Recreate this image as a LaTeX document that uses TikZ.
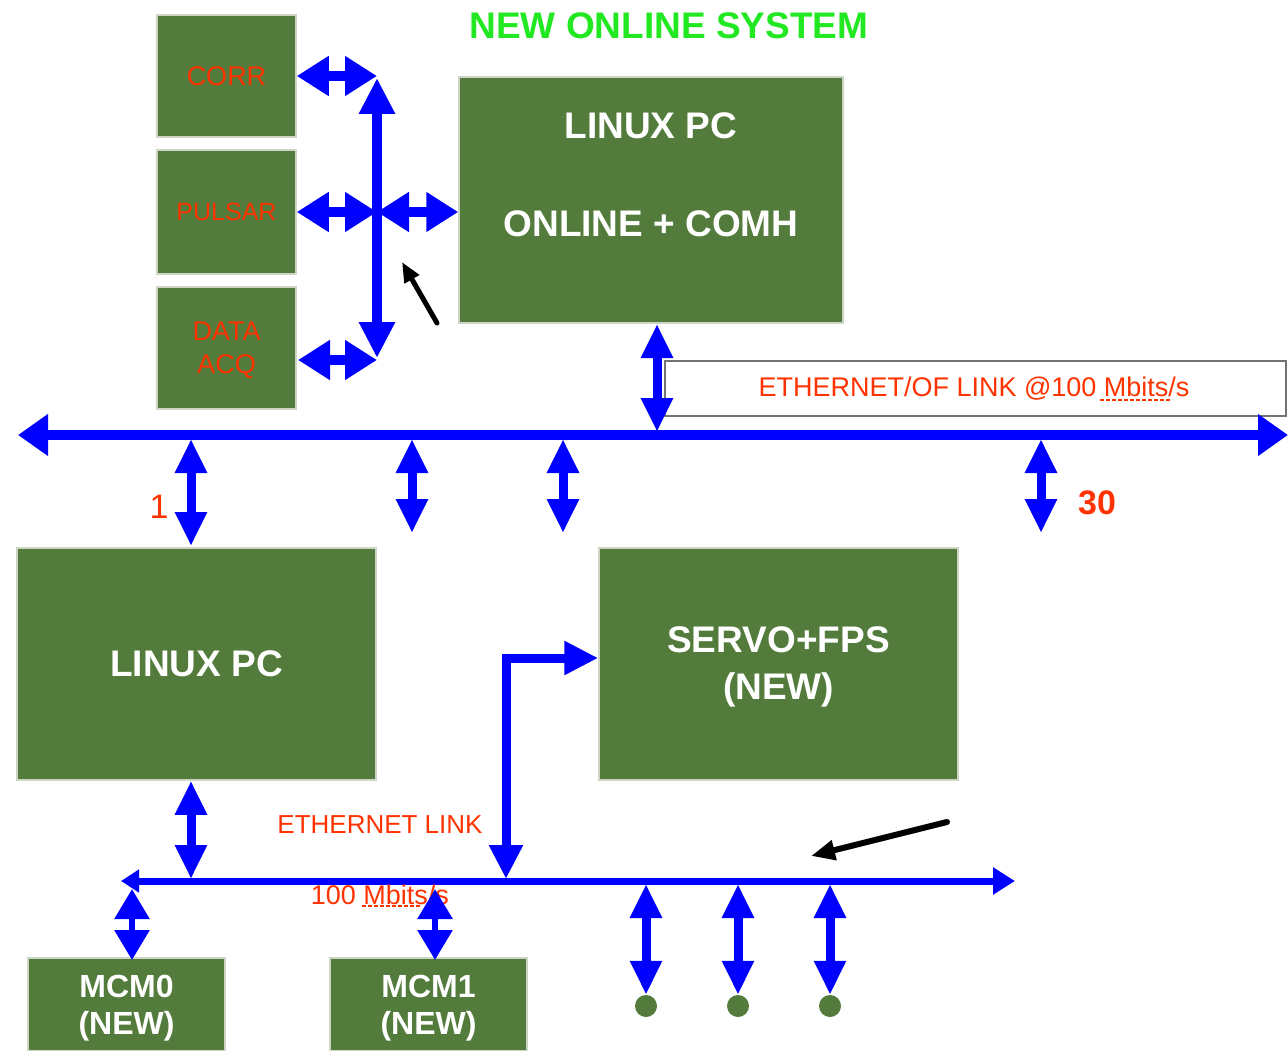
\documentclass[tikz,border=0pt]{standalone}
\usepackage{fontspec}
\setmainfont{Liberation Sans}
\usetikzlibrary{arrows.meta}
\definecolor{boxgreen}{RGB}{83,123,60}
\definecolor{boxedge}{RGB}{205,214,196}
\definecolor{busblue}{RGB}{0,0,255}
\definecolor{txtred}{RGB}{255,51,0}
\definecolor{titlegreen}{RGB}{34,232,34}
\newcommand\fsz[1]{\fontsize{#1}{#1}\selectfont}
\begin{document}
\begin{tikzpicture}[x=1pt,y=-1pt,
  gbox/.style={fill=boxgreen,draw=boxedge,line width=1.5pt,inner sep=0pt},
  redlbl/.style={text=txtred,font=\fsz{27},inner sep=0pt},
  whtlbl/.style={text=white,font=\fsz{37}\bfseries,inner sep=0pt},
  mainbus/.style={busblue,line width=10pt,{Triangle[width=40pt,length=30pt]}-{Triangle[width=40pt,length=30pt]}},
  droparr/.style={busblue,line width=9pt,{Triangle[width=30pt,length=34pt]}-{Triangle[width=30pt,length=34pt]}},
  sidearr/.style={busblue,line width=10pt,{Triangle[width=38pt,length=32pt]}-{Triangle[width=38pt,length=32pt]}},
  vbusarr/.style={busblue,line width=10pt,{Triangle[width=34pt,length=36pt]}-{Triangle[width=34pt,length=36pt]}},
  diamarr/.style={busblue,line width=6pt,{Triangle[width=34pt,length=30pt]}-{Triangle[width=34pt,length=30pt]}},
  lowbus/.style={busblue,line width=7pt,{Triangle[width=22pt,length=18pt]}-{Triangle[width=26pt,length=22pt]}},
  pointer/.style={black,line cap=round,-{Triangle[width=#1*3.2,length=#1*4]},line width=#1},
]
\useasboundingbox (0,0) rectangle (1288,1051);

% title
\node[text=titlegreen,font=\fsz{37}\bfseries,inner sep=0pt] (title) at (669,26) {NEW ONLINE SYSTEM};

% top-left small boxes
\node[gbox,minimum width=139pt,minimum height=122pt] (corr) at (226.5,76) {};
\node[redlbl] (corrT) at (226.5,76) {CORR};
\node[gbox,minimum width=139pt,minimum height=124pt] (pulsar) at (226.5,212) {};
\node[redlbl,font=\fsz{25}] (pulsarT) at (226.5,212) {PULSAR};
\node[gbox,minimum width=139pt,minimum height=122pt] (daq) at (226.5,348) {};
\node[redlbl] (daqT1) at (226.5,331) {DATA};
\node[redlbl] (daqT2) at (226.5,367) {ACQ};

% top Linux PC
\node[gbox,minimum width=384pt,minimum height=246pt] (lpc) at (651,200) {};
\node[whtlbl] (lpcT1) at (651,126) {LINUX PC};
\node[whtlbl] (lpcT2) at (651,224) {ONLINE + COMH};

% vertical bus on the left
\coordinate (vt) at (377,78);
\coordinate (vb) at (377,358);
\coordinate (daqA) at (298,360);
\coordinate (daqB) at (377,360);
\draw[vbusarr] (vt) -- (vb);
\draw[sidearr] (corr.east) -- (corr.east -| vt);
\draw[sidearr] (pulsar.east) -- (pulsar.east -| vt);
\draw[sidearr] (pulsar.east -| vt) -- (lpc.west |- pulsar.east);
\draw[sidearr] (daqA) -- (daqB);

% black pointer (top)
\coordinate (p1a) at (437,323);
\coordinate (p1b) at (402,262);
\draw[pointer=5pt] (p1a) -- (p1b);

% ethernet label box
\node[draw=black!55,fill=white,line width=2pt,minimum width=621pt,minimum height=55pt,inner sep=0pt] (ethbox) at (975.5,388.5) {};
\node[text=txtred,font=\fsz{27},inner sep=0pt] (ethT) at (974,389) {ETHERNET/OF LINK @100 Mbits/s};
\coordinate (sq1a) at (1100,400);
\coordinate (sq1b) at (1172,400);
\draw[txtred,line width=1.6pt,dash pattern=on 4pt off 2pt] (sq1a) -- (sq1b);

% main bus
\coordinate (busL) at (18,435);
\coordinate (busR) at (1288,435);
\draw[mainbus] (busL) -- (busR);
\coordinate (lpcDrop) at (657,324);
\coordinate (lpcBus) at (657,432);
\draw[droparr] (lpcDrop) -- (lpcBus);

% lower boxes
\node[gbox,minimum width=359pt,minimum height=232pt] (lpcb) at (196.5,664) {};
\node[whtlbl] (lpcbT) at (196.5,664) {LINUX PC};
\node[gbox,minimum width=359pt,minimum height=232pt] (servo) at (778.5,664) {};
\node[whtlbl] (servoT1) at (778.5,640) {SERVO+FPS};
\node[whtlbl] (servoT2) at (778.5,690) {(NEW)};

% drops from main bus
\coordinate (d1a) at (191,439);
\coordinate (d1b) at (191,546);
\draw[droparr] (d1a) -- (d1b);
\coordinate (d2a) at (412,439);
\coordinate (d2b) at (412,533);
\draw[droparr] (d2a) -- (d2b);
\coordinate (d3a) at (563,439);
\coordinate (d3b) at (563,533);
\draw[droparr] (d3a) -- (d3b);
\coordinate (d4a) at (1041,439);
\coordinate (d4b) at (1041,533);
\draw[droparr] (d4a) -- (d4b);
\node[text=txtred,font=\fsz{34},inner sep=0pt] (one) at (159,507) {1};
\node[text=txtred,font=\fsz{34}\bfseries,inner sep=0pt] (thirty) at (1097,503) {30};

% lower bus
\coordinate (lbL) at (121,881);
\coordinate (lbR) at (1015,881);
\draw[lowbus] (lbL) -- (lbR);
\coordinate (lpcbBus) at (191,879);
\draw[droparr] ([xshift=-5.5pt]lpcb.south) -- (lpcbBus);

% elbow to servo
\coordinate (elb) at (506,658);
\coordinate (elbBus) at (506,879);
\draw[busblue,line width=9pt,{Triangle[width=32pt,length=34pt]}-{Triangle[width=32pt,length=34pt]},line join=miter] (servo.west |- elb) -- (elb) -- (elbBus);

\node[text=txtred,font=\fsz{26},inner sep=0pt] (ethLink) at (380,825) {ETHERNET LINK};
\node[text=txtred,font=\fsz{27},inner sep=0pt] (mbits) at (380,895) {100 Mbits/s};
\coordinate (sq2a) at (362,906);
\coordinate (sq2b) at (420,906);
\draw[txtred,line width=1.4pt,dash pattern=on 4pt off 2pt] (sq2a) -- (sq2b);

% black pointer (bottom)
\coordinate (p2a) at (947,822);
\coordinate (p2b) at (811,856);
\draw[pointer=6pt] (p2a) -- (p2b);

% MCM boxes
\node[gbox,minimum width=197pt,minimum height=93pt,anchor=north] (mcm0) at (126.5,957) {};
\node[text=white,font=\fsz{32}\bfseries,inner sep=0pt] (mcm0T1) at (126.5,986) {MCM0};
\node[text=white,font=\fsz{32}\bfseries,inner sep=0pt] (mcm0T2) at (126.5,1026) {(NEW)};
\node[gbox,minimum width=197pt,minimum height=93pt,anchor=north] (mcm1) at (428.5,957) {};
\node[text=white,font=\fsz{32}\bfseries,inner sep=0pt] (mcm1T1) at (428.5,986) {MCM1};
\node[text=white,font=\fsz{32}\bfseries,inner sep=0pt] (mcm1T2) at (428.5,1026) {(NEW)};
\coordinate (m0a) at (132,889);
\coordinate (m1a) at (435,889);
\draw[diamarr] (m0a) -- ([yshift=-3pt]mcm0.north -| m0a);
\draw[diamarr] (m1a) -- ([yshift=-3pt]mcm1.north -| m1a);

% green dots and drops from lower bus
\foreach \i/\x in {1/646,2/738,3/830}{
  \node[circle,fill=boxgreen,minimum size=22pt,inner sep=0pt] (dot\i) at (\x,1006) {};
  \coordinate (ld\i) at (\x,884);
  \draw[droparr] (ld\i) -- (dot\i.north);
}
\end{tikzpicture}
\end{document}
